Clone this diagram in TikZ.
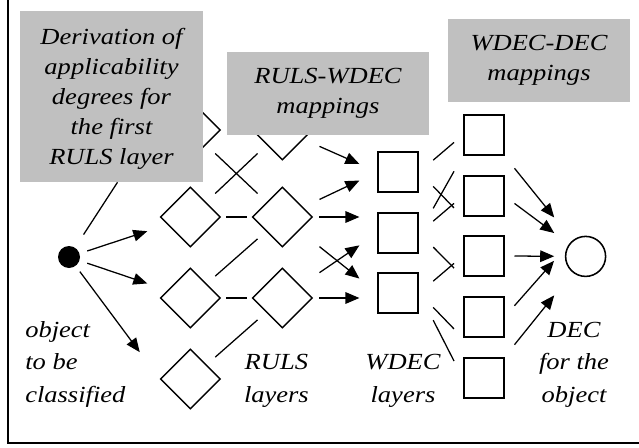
\documentclass[tikz,border=0pt]{standalone}
\usepackage{fontspec}
\setmainfont{Liberation Serif}[FakeStretch=1.15]
\usepackage{tikz}
\usetikzlibrary{shapes.geometric,arrows.meta,calc}
\definecolor{boxgray}{RGB}{192,192,192}

\begin{document}
\begin{tikzpicture}[
  font=\fontsize{16.4}{21.3}\selectfont\itshape,
  ruls/.style={draw,diamond,minimum width=1.5cm,minimum height=1.5cm,inner sep=0pt,line width=1pt},
  wdec/.style={draw,minimum size=1cm,inner sep=0pt,line width=1.3pt},
  note/.style={fill=boxgray,align=center,inner sep=0pt},
  tag/.style={align=center,inner sep=0pt,font=\fontsize{16.4}{22.8}\selectfont\itshape},
  link/.style={line width=0.9pt},
  >={Triangle[length=3.5mm,width=2.9mm]}
]
\useasboundingbox (0,0) rectangle (15.975,-11.175);
\draw[line width=1.4pt] (0.2,0) -- (0.2,-11.075) -- (15.975,-11.075);

% object and the two RULS layers
\node[circle,fill,minimum size=0.55cm,inner sep=0pt] (dot) at (1.725,-6.425) {};
\node[ruls] (d11) at (4.76,-3.25)  {};
\node[ruls] (d12) at (4.76,-5.425) {};
\node[ruls] (d13) at (4.76,-7.45)  {};
\node[ruls] (d14) at (4.76,-9.475) {};
\node[ruls] (d21) at (7.06,-3.25)  {};
\node[ruls] (d22) at (7.06,-5.425) {};
\node[ruls] (d23) at (7.06,-7.45)  {};

% WDEC layers and DEC
\node[wdec] (w1) at (9.96,-4.3)   {};
\node[wdec] (w2) at (9.96,-5.825) {};
\node[wdec] (w3) at (9.96,-7.325) {};
\node[wdec] (v1) at (12.09,-3.375) {};
\node[wdec] (v2) at (12.09,-4.9)   {};
\node[wdec] (v3) at (12.09,-6.4)   {};
\node[wdec] (v4) at (12.09,-7.925) {};
\node[wdec] (v5) at (12.09,-9.45)  {};
\node[draw,circle,minimum size=1cm,inner sep=0pt,line width=1.1pt] (dec) at (14.64,-6.41) {};

\node[tag,anchor=base west,align=left] (obj) at (0.625,-10.05) {object\\to be\\classified};
\node[tag,anchor=base] (rl) at (6.91,-10.05)  {RULS\\layers};
\node[tag,anchor=base] (wl) at (10.075,-10.05) {WDEC\\layers};
\node[tag,anchor=base] (dl) at (14.35,-10.05)  {DEC\\for the\\object};

% object -> first layer
\draw[link,->] ($(dot)!0.15!(d12)$) -- ($(dot)!0.645!(d12)$);
\draw[link,->] ($(dot)!0.15!(d13)$) -- ($(dot)!0.645!(d13)$);
\draw[link,->] ($(dot)!0.12!(d14.west)$) -- ($(dot)!0.78!(d14.west)$);

% between the RULS layers
\foreach \a/\b in {d11/d22,d12/d21,d13/d22,d14/d23}
  \draw[link] ($(\a)!0.27!(\b)$) -- ($(\a)!0.73!(\b)$);
\foreach \a/\b in {d12/d22,d13/d23}
  \draw[link] ($(\a)!0.39!(\b)$) -- ($(\a)!0.62!(\b)$);

% RULS -> WDEC
\foreach \a/\b in {d21/w1,d22/w1,d22/w3,d23/w2}
  \draw[link,->] ($(\a)!0.39!(\b.west)$) -- ($(\a)!0.81!(\b.west)$);
\draw[link,->] ($(d22)!0.39!(d22 -| w2.west)$) -- ($(d22)!0.81!(d22 -| w2.west)$);
\draw[link,->] ($(d23)!0.39!(d23 -| w3.west)$) -- ($(d23)!0.81!(d23 -| w3.west)$);

% WDEC -> WDEC
\foreach \a/\b in {w1/v1.west,w1/v2.south west,w2/v1.south west,w2/v2.west,
                   w2/v3.south west,w3/v3.west,w3/v4.south west,w3/v5.west}
  \draw[link] ($(\a.east)!0.32!(\b)$) -- ($(\a.east)!0.8!(\b)$);

% WDEC -> DEC
\draw[link,->] ($(v1.south east)!0.123!(dec)$) -- ($(v1.south east)!0.613!(dec)$);
\draw[link,->] ($(v2.east)!0.123!(dec)$) -- ($(v2.east)!0.613!(dec)$);
\draw[link,->] ($(v3.east)!0.123!(dec)$) -- ($(v3.east)!0.613!(dec)$);
\draw[link,->] ($(v4.east)!0.149!(dec.north west)$) -- ($(v4.east)!0.746!(dec.north west)$);
\draw[link,->] ($(v5.north east)!0.123!(dec)$) -- ($(v5.north east)!0.613!(dec)$);

% mapping notes
\node[note,text depth=0pt,minimum width=4.575cm,minimum height=4.275cm] (b1) at (2.7875,-2.4125)
  {Derivation of\\applicability\\degrees for\\the first\\RULS layer};
\node[note,minimum width=5.05cm,minimum height=2.075cm] (b2) at (8.2,-2.3375)
  {RULS-WDEC\\mappings};
\node[note,minimum width=4.55cm,minimum height=2.075cm] (b3) at (13.475,-1.5125)
  {WDEC-DEC\\mappings};
\draw[link] ($(dot)!0.3!([xshift=0.15cm]b1.south)$) -- ([xshift=0.15cm]b1.south);
\end{tikzpicture}
\end{document}
